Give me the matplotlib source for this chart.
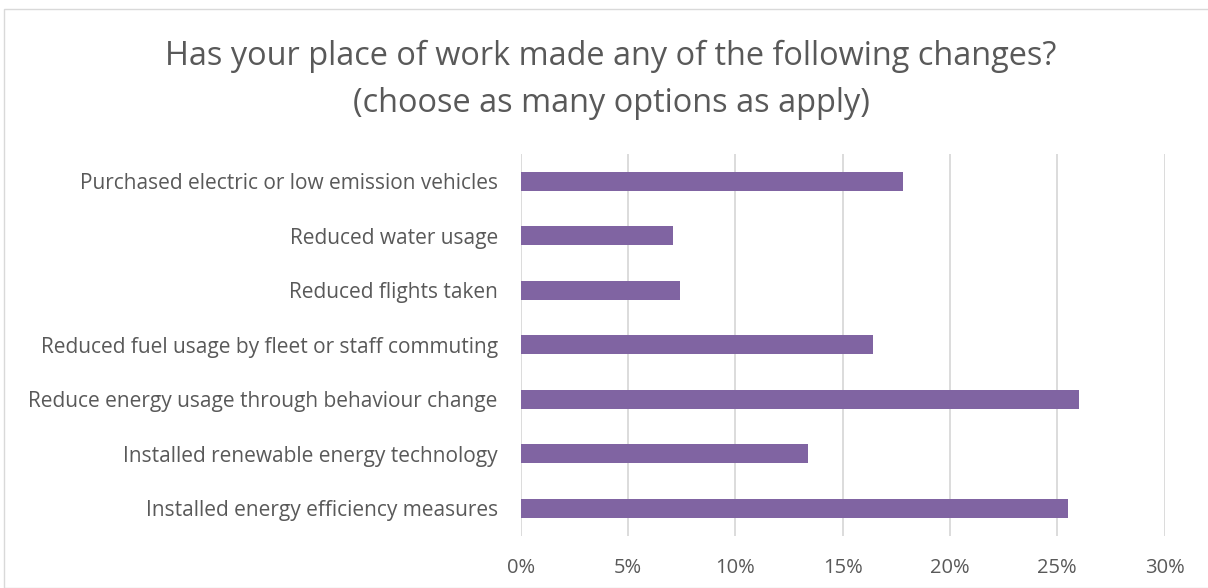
import matplotlib
matplotlib.use("Agg")
import matplotlib.pyplot as plt
from matplotlib.ticker import FuncFormatter
from matplotlib.patches import Rectangle

categories = [
    "Purchased electric or low emission vehicles",
    "Reduced water usage",
    "Reduced flights taken",
    "Reduced fuel usage by fleet or staff commuting",
    "Reduce energy usage through behaviour change",
    "Installed renewable energy technology",
    "Installed energy efficiency measures",
]
values = [17.8, 7.1, 7.4, 16.4, 26.0, 13.4, 25.5]
xticks = [0, 5, 10, 15, 20, 25, 30]
title = "Has your place of work made any of the following changes?\n(choose as many options as apply)"

text_color = "#595959"
bar_color = "#8064A2"
grid_color = "#D9D9D9"
font = ["Open Sans", "DejaVu Sans"]

fig = plt.figure(figsize=(12.08, 5.88), dpi=100)
fig.patches.append(Rectangle((4/1208, 0), 1.2, 1 - 9/588, transform=fig.transFigure,
                             fill=False, edgecolor=grid_color, linewidth=1.0))
ax = fig.add_axes([520.7/1208, 1 - 535.5/588, (1164.5 - 520.7)/1208, 381.5/588])

y = list(range(len(categories)))
ax.barh(y, values, height=0.35, color=bar_color, zorder=3)
ax.set_ylim(len(categories) - 0.5, -0.5)
ax.set_xlim(0, 30)
ax.set_xticks(xticks)
ax.xaxis.set_major_formatter(FuncFormatter(lambda v, p: f"{v:.0f}%"))
ax.set_yticks(y)
ax.set_yticklabels(categories)
for s in ax.spines.values():
    s.set_visible(False)
ax.grid(axis="x", color=grid_color, linewidth=1.3, zorder=0)
ax.tick_params(axis="both", length=0, colors=text_color)
ax.tick_params(axis="x", pad=16, labelsize=14.5)
ax.tick_params(axis="y", pad=16.5, labelsize=15)
for lab in ax.get_xticklabels() + ax.get_yticklabels():
    lab.set_family(font)
    lab.set_color(text_color)

fig.text(611/1208, 1 - 80/588, title, ha="center", va="center", fontsize=23.4,
         color=text_color, family=font, linespacing=1.55)

fig.savefig("out.png", dpi=100)
